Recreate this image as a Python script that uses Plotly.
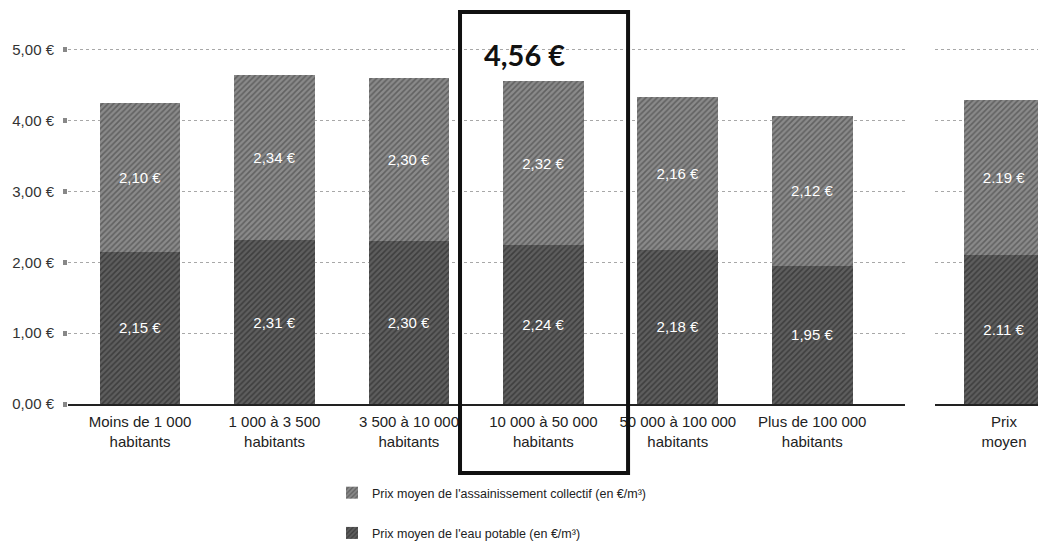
import plotly.graph_objects as go

categories = ["Moins de 1 000<br>habitants", "1 000 à 3 500<br>habitants", "3 500 à 10 000<br>habitants",
              "10 000 à 50 000<br>habitants", "50 000 à 100 000<br>habitants", "Plus de 100 000<br>habitants"]
eau_potable = [2.15, 2.31, 2.30, 2.24, 2.18, 1.95]
assainissement = [2.10, 2.34, 2.30, 2.32, 2.16, 2.12]
eau_labels = ["2,15 €", "2,31 €", "2,30 €", "2,24 €", "2,18 €", "1,95 €"]
ass_labels = ["2,10 €", "2,34 €", "2,30 €", "2,32 €", "2,16 €", "2,12 €"]

moyen_cat = ["Prix<br>moyen"]
moyen_eau = [2.11]
moyen_ass = [2.19]
moyen_eau_labels = ["2.11 €"]
moyen_ass_labels = ["2.19 €"]

highlight_index = 3
highlight_total = "4,56 €"

tick_vals = [0, 1, 2, 3, 4, 5]
tick_text = ["0,00 €", "1,00 €", "2,00 €", "3,00 €", "4,00 €", "5,00 €"]

name_eau = "Prix moyen de l'eau potable (en €/m³)"
name_ass = "Prix moyen de l'assainissement collectif (en €/m³)"

FONT = "Liberation Sans, Arial, sans-serif"
C_ASS, F_ASS = "#8a8a8a", "#383838"
C_EAU, F_EAU = "#5e5e5e", "#1e1e1e"

W, H = 1038, 541  # page body has an 8px margin

def pat(fg):
    return dict(shape="/", fgcolor=fg, size=4, solidity=0.4, fillmode="overlay")

fig = go.Figure()
common = dict(width=0.6, textposition="inside", insidetextanchor="middle",
              textfont=dict(color="white", size=15, family=FONT), hoverinfo="skip",
              constraintext="none")

fig.add_trace(go.Bar(x=categories, y=eau_potable, text=eau_labels, name=name_eau,
                     marker=dict(color=C_EAU, pattern=pat(F_EAU), line=dict(width=0)),
                     legendgroup="eau", legendrank=2, xaxis="x", yaxis="y", **common))
fig.add_trace(go.Bar(x=categories, y=assainissement, text=ass_labels, name=name_ass,
                     marker=dict(color=C_ASS, pattern=pat(F_ASS), line=dict(width=0)),
                     legendgroup="ass", legendrank=1, xaxis="x", yaxis="y", **common))
fig.add_trace(go.Bar(x=moyen_cat, y=moyen_eau, text=moyen_eau_labels, showlegend=False,
                     marker=dict(color=C_EAU, pattern=pat(F_EAU), line=dict(width=0)),
                     xaxis="x2", yaxis="y2", **common))
fig.add_trace(go.Bar(x=moyen_cat, y=moyen_ass, text=moyen_ass_labels, showlegend=False,
                     marker=dict(color=C_ASS, pattern=pat(F_ASS), line=dict(width=0)),
                     xaxis="x2", yaxis="y2", **common))

yax = dict(range=[0, 5.593], tickvals=tick_vals, ticktext=tick_text, showgrid=True,
           gridcolor="#a8a8a8", griddash="dot", gridwidth=1, zeroline=False, fixedrange=True)
xfont = dict(size=15, color="#222")

fig.update_layout(
    width=W, height=H, barmode="stack",
    margin=dict(l=0, r=0, t=0, b=145),
    paper_bgcolor="white", plot_bgcolor="white",
    font=dict(family=FONT, size=13, color="#222"),
    xaxis=dict(domain=[60/W, 897/W], range=[-0.536, 5.69], showline=True,
               linecolor="#222", linewidth=2, ticks="", tickfont=xfont, ticklabelstandoff=3),
    yaxis=dict(**yax, ticks="outside", ticklen=4, tickwidth=5, tickcolor="#888",
               ticklabelstandoff=6, tickfont=dict(size=15, color="#333")),
    xaxis2=dict(domain=[927/W, 1.0], range=[-0.513, 0.3125], showline=True,
                linecolor="#222", linewidth=2, ticks="", tickfont=xfont, ticklabelstandoff=3),
    yaxis2=dict(**yax, anchor="x2", showticklabels=False, ticks=""),
    legend=dict(x=324/W, xanchor="left", y=-0.187, yanchor="top", orientation="v",
                traceorder="grouped", tracegroupgap=21, font=dict(size=12.5, color="#222"),
                bgcolor="rgba(0,0,0,0)"),
    showlegend=True,
)

fig.add_shape(type="rect", xref="x", yref="paper",
              x0=highlight_index - 0.62, x1=highlight_index + 0.63,
              y0=-0.174, y1=0.99, line=dict(color="#111", width=4), fillcolor="rgba(0,0,0,0)")
fig.add_annotation(xref="x", yref="y", x=highlight_index - 0.14, y=4.93, text=highlight_total,
                   showarrow=False, font=dict(family="Lato, sans-serif", size=29, color="#111",
                                              weight="bold"))

fig.write_html("out.html")
